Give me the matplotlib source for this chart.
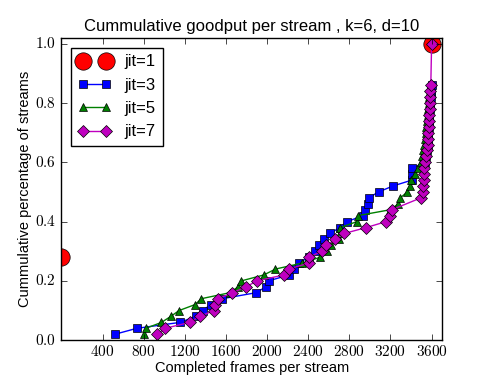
import numpy as np
import matplotlib
matplotlib.use('Agg')
import matplotlib.pyplot as plt
from matplotlib.ticker import FuncFormatter

plt.style.use('classic')
plt.rcParams['font.family'] = ['Liberation Sans', 'DejaVu Sans']
plt.rcParams['mathtext.fontset'] = 'cm'

# jit=1
x1 = [0, 3600]
y1 = [0.28, 1.0]

# jit=3
x3 = [520, 733, 1153, 1306, 1375, 1451, 1565, 1890, 1991, 2014,
      2211, 2260, 2308, 2405, 2470, 2502, 2557, 2615, 2706, 2777,
      2933, 2955, 2977, 2987, 3084, 3223, 3408, 3408, 3408, 3540,
      3548, 3555, 3560, 3565, 3568, 3572, 3575, 3578, 3582, 3586,
      3590, 3594, 3600]
y3 = [0.02, 0.04, 0.06, 0.08, 0.10, 0.12, 0.14, 0.16, 0.18, 0.20,
      0.22, 0.24, 0.26, 0.28, 0.30, 0.32, 0.34, 0.36, 0.38, 0.40,
      0.42, 0.44, 0.46, 0.48, 0.50, 0.52, 0.54, 0.56, 0.58, 0.60,
      0.62, 0.64, 0.66, 0.68, 0.70, 0.72, 0.74, 0.76, 0.78, 0.80,
      0.82, 0.84, 0.86]

# jit=5
x5 = [804, 820, 973, 1063, 1144, 1299, 1361, 1635, 1720, 1749,
      1968, 2082, 2340, 2518, 2580, 2625, 2696, 2705, 2712, 2874,
      2880, 3197, 3278, 3294, 3365, 3385, 3401, 3440, 3470, 3495,
      3505, 3514, 3525, 3535, 3542, 3550, 3556, 3562, 3567, 3572,
      3576, 3580]
y5 = [0.02, 0.04, 0.06, 0.08, 0.10, 0.12, 0.14, 0.16, 0.18, 0.20,
      0.22, 0.24, 0.26, 0.28, 0.30, 0.32, 0.34, 0.36, 0.38, 0.40,
      0.42, 0.44, 0.46, 0.48, 0.50, 0.52, 0.54, 0.56, 0.58, 0.60,
      0.62, 0.64, 0.66, 0.68, 0.70, 0.72, 0.74, 0.76, 0.78, 0.80,
      0.82, 0.84]

# jit=7
x7 = [934, 1008, 1247, 1344, 1483, 1493, 1526, 1662, 1797, 1900,
      2162, 2211, 2405, 2405, 2534, 2576, 2664, 2751, 2964, 3158,
      3197, 3213, 3495, 3514, 3521, 3522, 3524, 3530, 3540, 3550,
      3555, 3560, 3564, 3568, 3571, 3574, 3577, 3580, 3583, 3586,
      3589, 3592, 3600]
y7 = [0.02, 0.04, 0.06, 0.08, 0.10, 0.12, 0.14, 0.16, 0.18, 0.20,
      0.22, 0.24, 0.26, 0.28, 0.30, 0.32, 0.34, 0.36, 0.38, 0.40,
      0.42, 0.44, 0.48, 0.50, 0.52, 0.54, 0.56, 0.58, 0.60, 0.62,
      0.64, 0.66, 0.68, 0.70, 0.72, 0.74, 0.76, 0.78, 0.80, 0.82,
      0.84, 0.86, 1.0]

fig = plt.figure(figsize=(4.91, 3.78), dpi=100)
fig.patch.set_facecolor('white')
ax = fig.add_subplot(111)

ax.plot(x1, y1, 'o', color='r', markersize=12.5, linestyle='None', label='jit=1')
ax.plot(x3, y3, 's-', color='b', markersize=5.5, label='jit=3')
ax.plot(x5, y5, '^-', color='g', markersize=6, label='jit=5')
ax.plot(x7, y7, 'D-', color='m', markersize=6, label='jit=7')

ax.set_xlim(0, 3700)
ax.set_ylim(0, 1.02)
ax.set_xticks(np.arange(400, 3601, 400))
ax.set_yticks(np.arange(0, 1.01, 0.2))
ax.xaxis.set_major_formatter(FuncFormatter(lambda v, p: r'$%d$' % v))
ax.yaxis.set_major_formatter(FuncFormatter(lambda v, p: r'$%.1f$' % v))
ax.tick_params(labelsize=11)
ax.tick_params(axis='x', pad=3)

ax.set_title('Cummulative goodput per stream , k=6, d=10', fontsize=12)
ax.set_xlabel('Completed frames per stream', fontsize=10.5, labelpad=1)
ax.set_ylabel('Cummulative percentage of streams', fontsize=10.5, labelpad=2)

ax.legend(loc='upper left', numpoints=2, fontsize=12, borderaxespad=0.6)

fig.savefig('out.png', dpi=100, facecolor='white')
